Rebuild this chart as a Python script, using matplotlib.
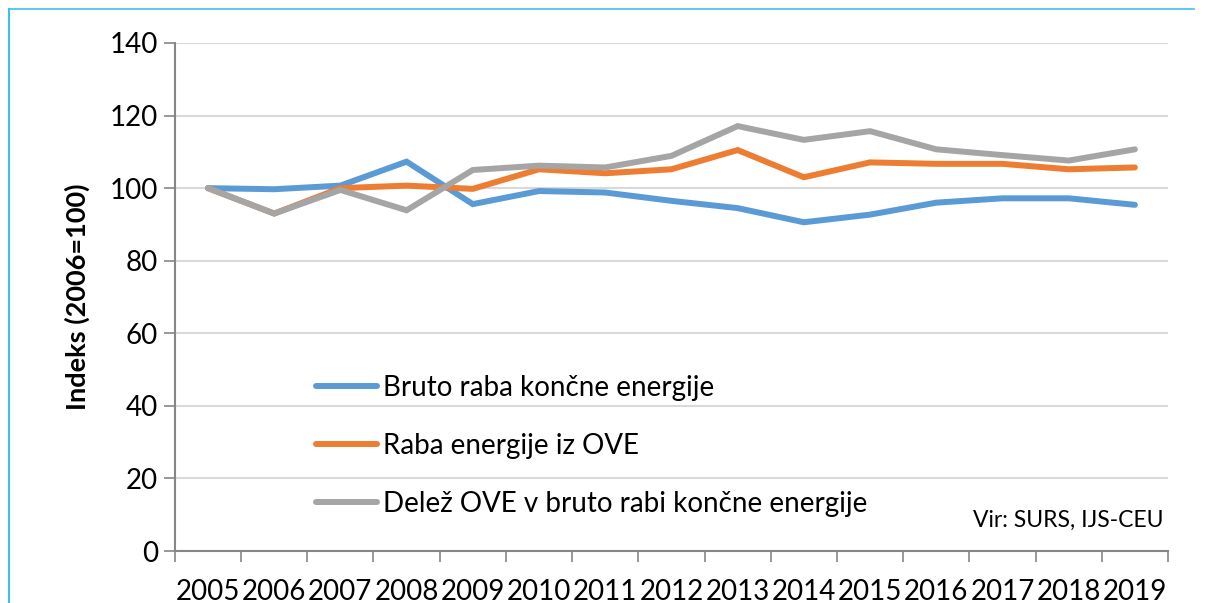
import matplotlib
matplotlib.use("Agg")
import matplotlib.pyplot as plt
from matplotlib.lines import Line2D
import numpy as np

plt.rcParams['font.family'] = ['Lato', 'DejaVu Sans']

years = ['2005', '2006', '2007', '2008', '2009', '2010', '2011', '2012',
         '2013', '2014', '2015', '2016', '2017', '2018', '2019']
bruto_raba = [100, 99.7, 100.7, 107.3, 95.6, 99.2, 98.8, 96.5, 94.5, 90.6,
              92.7, 96.0, 97.2, 97.2, 95.4]
raba_ove = [100, 93.0, 100.0, 100.7, 99.8, 105.2, 104.1, 105.2, 110.5, 103.0,
            107.1, 106.7, 106.7, 105.2, 105.7]
delez_ove = [100, 93.0, 99.5, 93.9, 105.0, 106.2, 105.7, 108.9, 117.1, 113.3,
             115.7, 110.7, 109.1, 107.6, 110.7]
labels = ['Bruto raba končne energije', 'Raba energije iz OVE',
          'Delež OVE v bruto rabi končne energije']
colors = ['#5b9bd5', '#ed7d31', '#a5a5a5']

fig = plt.figure(figsize=(12.06, 6.03), dpi=100)
ax = fig.add_axes([0.145, 0.0862, 0.8235, 0.8425])

x = np.arange(len(years))
for vals, lab, col in zip([bruto_raba, raba_ove, delez_ove], labels, colors):
    ax.plot(x, vals, color=col, lw=4.3, label=lab, solid_capstyle='round',
            solid_joinstyle='miter')

ax.set_xlim(-0.5, len(years) - 0.5)
ax.set_ylim(0, 140)
ax.set_yticks(np.arange(0, 141, 20))
ax.set_xticks(x)
ax.set_xticklabels(years)
ax.set_xticks(np.arange(-0.5, len(years), 1), minor=True)
ax.tick_params(axis='x', which='major', length=0, pad=20, labelsize=20)
ax.tick_params(axis='x', which='minor', length=8, width=1.2, color='#868686', direction='out')
ax.tick_params(axis='y', length=8, width=1.2, color='#868686', labelsize=20, pad=4)

ax.grid(axis='y', color='#d9d9d9', lw=1.5)
ax.set_axisbelow(True)
for s in ['top', 'right']:
    ax.spines[s].set_visible(False)
for s in ['left', 'bottom']:
    ax.spines[s].set_color('#868686')
    ax.spines[s].set_linewidth(1.5)

ax.set_ylabel('Indeks (2006=100)', fontsize=19.5, fontweight='bold', labelpad=14)

ax.legend(loc='center left', bbox_to_anchor=(0.142, 0.207), frameon=False,
          fontsize=20, handlelength=2.2, handletextpad=0.2, labelspacing=1.16,
          borderpad=0, borderaxespad=0)

ax.text(0.995, 0.04, 'Vir: SURS, IJS-CEU', transform=ax.transAxes,
        ha='right', va='bottom', fontsize=16.5)

# light blue frame
frame_col = '#3fbfef'
fig.add_artist(Line2D([0.0075, 0.0075], [0.0, 0.985], color=frame_col, lw=1.5,
                      transform=fig.transFigure))
fig.add_artist(Line2D([0.0075, 0.99], [0.985, 0.985], color=frame_col, lw=1.2,
                      transform=fig.transFigure))

fig.savefig('out.png', dpi=100)
